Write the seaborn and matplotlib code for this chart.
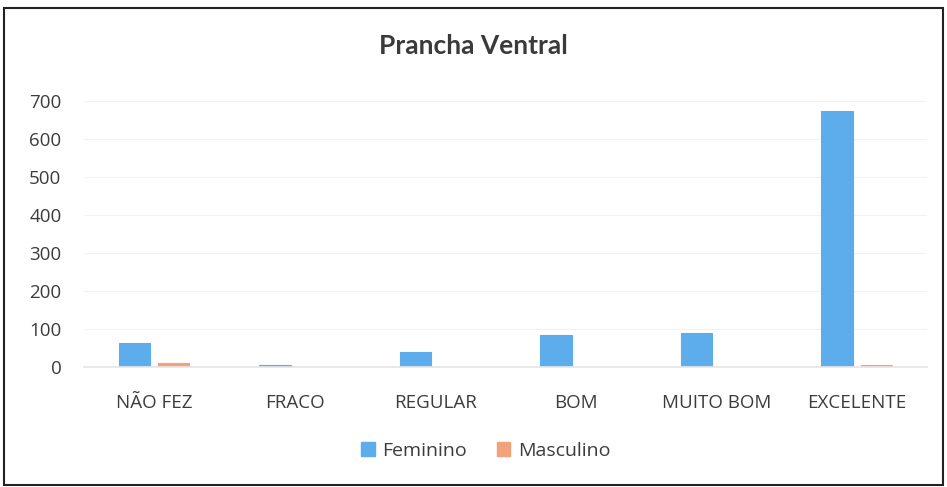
import pandas as pd
import matplotlib
matplotlib.use('Agg')
import matplotlib.pyplot as plt
import seaborn as sns
from matplotlib.patches import Rectangle

# data
categories = ['NÃO FEZ', 'FRACO', 'REGULAR', 'BOM', 'MUITO BOM', 'EXCELENTE']
feminino = [64, 7, 41, 85, 91, 672]
masculino = [12, 0, 0, 0, 0, 6]
series = ['Feminino', 'Masculino']
colors = ['#5DADEC', '#F2A27A']

df = pd.DataFrame({
    'categoria': categories * 2,
    'valor': feminino + masculino,
    'sexo': [series[0]] * len(categories) + [series[1]] * len(categories),
})

sns.set_theme(style='white')
plt.rcParams['font.family'] = ['Open Sans', 'DejaVu Sans']

fig = plt.figure(figsize=(9.47, 4.87), dpi=100)
ax = fig.add_axes([0.0884, 0.2454, 0.8906, 0.5482])

sns.barplot(data=df, x='categoria', y='valor', hue='sexo', order=categories,
            hue_order=series, palette=colors, width=0.56, gap=0.2,
            saturation=1, legend=False, ax=ax)
# thin bars (tiny values) get an outline so they still show as a line
for bar in ax.patches:
    if bar.get_height() > 0:
        bar.set_edgecolor(bar.get_facecolor())
        bar.set_linewidth(0.8)

ax.set_ylim(0, 700)
ax.set_xlim(-0.5, len(categories) - 0.5)
ax.set_yticks(range(0, 701, 100))
ax.yaxis.grid(True, color='#f2f2f2', linewidth=0.8)
ax.set_axisbelow(True)
for s in ['top', 'right', 'left']:
    ax.spines[s].set_visible(False)
ax.spines['bottom'].set_color('#e6e6e6')
ax.tick_params(axis='both', length=0, labelsize=13.5, colors='#3c3c3c')
ax.tick_params(axis='x', pad=19)
ax.tick_params(axis='y', pad=16)
ax.set_xlabel('')
ax.set_ylabel('')

fig.text(0.5, 0.905, 'Prancha Ventral', ha='center', va='center', family='Lato',
         fontsize=19, fontweight='bold', color='#3a3a3a')

handles = [Rectangle((0, 0), 1, 1, color=c) for c in colors]
fig.legend(handles, series, loc='center', bbox_to_anchor=(0.513, 0.074), ncol=2,
           frameon=False, fontsize=14, handlelength=0.7, handleheight=0.7,
           handletextpad=0.4, columnspacing=1.5, labelcolor='#3c3c3c')

# outer frame
fig.patches.append(Rectangle((0.004, 0.004), 0.992, 0.98, transform=fig.transFigure,
                             fill=False, edgecolor='#222222', linewidth=1.5))

plt.savefig('out.png', dpi=100)
